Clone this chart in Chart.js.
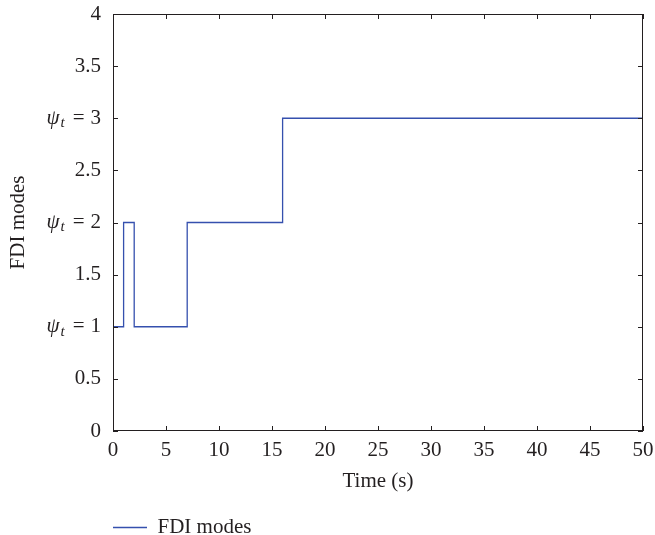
<!DOCTYPE html>
<html>
<head>
<meta charset="utf-8">
<script src="https://cdn.jsdelivr.net/npm/chart.js@4/dist/chart.umd.min.js"></script>
<style>
  html, body { margin: 0; padding: 0; background: #fff; }
  #wrap { width: 655px; height: 535px; }
</style>
</head>
<body>
<div id="wrap"><canvas id="c"></canvas></div>
<script>
// step changes of the FDI mode (time in s, mode value)
const times = [0, 1, 2, 7, 16, 50];
const modes = [1, 2, 1, 2, 3, 3];
const xTicks = [0, 5, 10, 15, 20, 25, 30, 35, 40, 45, 50];
const yTicks = [0, 0.5, 1, 1.5, 2, 2.5, 3, 3.5, 4];
const modeLabels = { 1: "ψₜ = 1", 2: "ψₜ = 2", 3: "ψₜ = 3" };

const ink = "#231f20";
const lineColor = "#3550ae";
const family = "'Liberation Serif', 'DejaVu Serif', serif";
const font = { family: family, size: 21 };

// frame, inward tick marks and the psi_t labels
const framePlugin = {
  id: "frame",
  afterLayout(chart) {
    const lg = chart.legend;
    lg.left = 103;
    lg.top = 507;
  },
  afterDatasetsDraw(chart) {
    const { ctx, chartArea: a, scales } = chart;
    ctx.save();
    ctx.strokeStyle = ink;
    ctx.lineWidth = 1;
    ctx.strokeRect(a.left + 0.5, a.top + 0.5, a.right - a.left - 1, a.bottom - a.top - 1);
    const len = 5;
    ctx.beginPath();
    scales.x.ticks.forEach(t => {
      const px = Math.round(scales.x.getPixelForValue(t.value)) + 0.5;
      ctx.moveTo(px, a.bottom); ctx.lineTo(px, a.bottom - len);
      ctx.moveTo(px, a.top); ctx.lineTo(px, a.top + len);
    });
    scales.y.ticks.forEach(t => {
      const py = Math.round(scales.y.getPixelForValue(t.value)) + 0.5;
      ctx.moveTo(a.left, py); ctx.lineTo(a.left + len, py);
      ctx.moveTo(a.right, py); ctx.lineTo(a.right - len, py);
    });
    ctx.stroke();

    // psi_t = n labels, drawn right to left
    ctx.fillStyle = ink;
    ctx.textBaseline = "middle";
    ctx.textAlign = "right";
    scales.y.ticks.forEach(t => {
      if (!modeLabels[t.value]) return;
      const py = scales.y.getPixelForValue(t.value);
      let x = a.left - 12;
      ctx.font = "21px " + family;
      const num = String(t.value);
      ctx.fillText(num, x, py);
      x -= ctx.measureText(num).width + 6;
      ctx.fillText("=", x, py);
      x -= ctx.measureText("=").width + 8;
      ctx.font = "italic 15px " + family;
      ctx.fillText("t", x, py + 5);
      x -= ctx.measureText("t").width + 1;
      ctx.font = "italic 21px " + family;
      ctx.fillText("ψ", x, py);
    });
    ctx.restore();
  }
};

new Chart(document.getElementById("c"), {
  type: "line",
  data: {
    datasets: [{
      label: "FDI modes",
      data: times.map((t, i) => ({ x: t, y: modes[i] })),
      stepped: true,
      borderColor: lineColor,
      backgroundColor: lineColor,
      borderWidth: 1.3,
      pointRadius: 0,
      fill: false
    }]
  },
  options: {
    responsive: true,
    maintainAspectRatio: false,
    animation: false,
    layout: { padding: { top: 14, right: 12, left: 0, bottom: 0 } },
    plugins: {
      legend: {
        position: "bottom",
        align: "start",
        labels: {
          usePointStyle: true,
          pointStyle: "line",
          pointStyleWidth: 34,
          color: ink,
          font: font
        }
      },
      tooltip: { enabled: false }
    },
    scales: {
      x: {
        type: "linear",
        min: 0,
        max: 50,
        afterBuildTicks: s => { s.ticks = xTicks.map(v => ({ value: v })); },
        afterFit: s => { s.height = 63; s.paddingLeft = 0; s.paddingRight = 0; },
        grid: { display: false, drawTicks: false },
        border: { display: false },
        ticks: { color: ink, font: font, padding: 7, maxRotation: 0 },
        title: { display: true, text: "Time (s)", color: ink, font: font, padding: { top: 0, bottom: 0 } }
      },
      y: {
        min: 0,
        max: 4,
        afterBuildTicks: s => { s.ticks = yTicks.map(v => ({ value: v })); },
        afterFit: s => { s.width = 113; s.paddingTop = 0; s.paddingBottom = 0; },
        grid: { display: false, drawTicks: false },
        border: { display: false },
        ticks: {
          color: c => modeLabels[c.tick && c.tick.value] ? "rgba(0,0,0,0)" : ink,
          font: font,
          padding: 12,
          callback: v => modeLabels[v] || String(v)
        },
        title: { display: true, text: "FDI modes", color: ink, font: font, padding: { top: 6, bottom: 0 } }
      }
    }
  },
  plugins: [framePlugin]
});
</script>
</body>
</html>
